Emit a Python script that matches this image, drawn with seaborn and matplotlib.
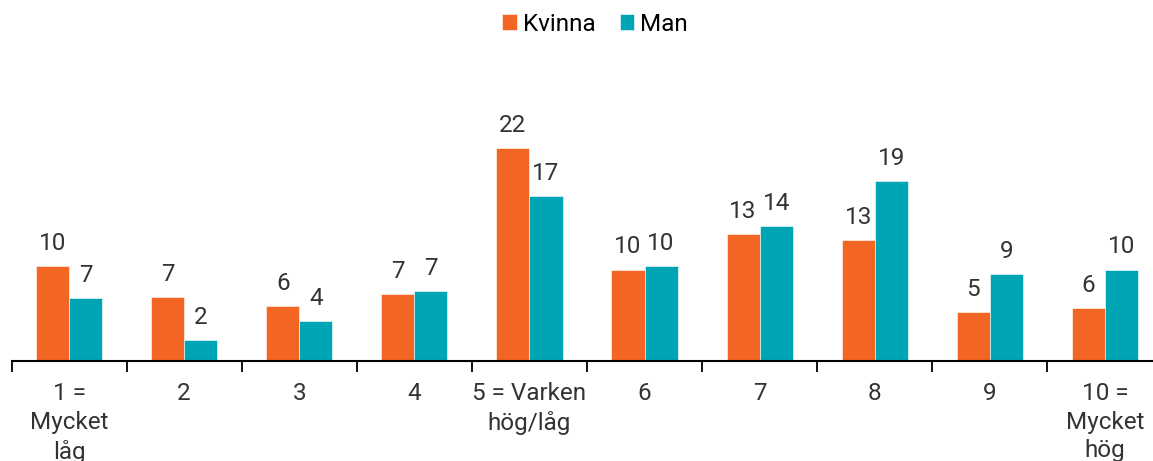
import numpy as np
import pandas as pd
import matplotlib
matplotlib.use("Agg")
import matplotlib.pyplot as plt
import seaborn as sns

CATEGORIES = ["1 =\nMycket\nlåg", "2", "3", "4", "5 = Varken\nhög/låg",
              "6", "7", "8", "9", "10 =\nMycket\nhög"]
KVINNA = [10.0, 6.7, 5.8, 7.0, 22.4, 9.6, 13.3, 12.7, 5.1, 5.6]
MAN = [6.6, 2.2, 4.2, 7.3, 17.3, 10.0, 14.2, 18.9, 9.1, 9.6]
SERIES = ["Kvinna", "Man"]
COLORS = ["#F26522", "#00A5B5"]

df = pd.DataFrame({
    "kategori": CATEGORIES * 2,
    "andel": KVINNA + MAN,
    "kon": ["Kvinna"] * len(KVINNA) + ["Man"] * len(MAN),
})

sns.set_theme(style="white")
plt.rcParams["font.family"] = ["Roboto", "DejaVu Sans"]
TEXT = "#333333"
FS = 17.5

fig = plt.figure(figsize=(11.53, 4.61), dpi=100)
ax = fig.add_axes([11.5 / 1153, 100 / 461, 1151 / 1153, 301 / 461])

sns.barplot(data=df, x="kategori", y="andel", hue="kon", order=CATEGORIES,
            hue_order=SERIES, palette=COLORS, width=0.575, saturation=1,
            edgecolor="white", linewidth=0.4, ax=ax, legend=True)

for cont in ax.containers:
    ax.bar_label(cont, labels=[f"{v:.0f}" for v in cont.datavalues],
                 padding=8, fontsize=FS, color=TEXT)

ax.set_ylim(0, 31.6)
ax.set_xlim(-0.5, len(CATEGORIES) - 0.5)
ax.set_xlabel("")
ax.set_ylabel("")
ax.set_yticks([])
for s in ["left", "right", "top"]:
    ax.spines[s].set_visible(False)
ax.spines["bottom"].set_color("black")
ax.spines["bottom"].set_linewidth(1.5)

ax.set_xticks(np.arange(-0.5, len(CATEGORIES), 1.0), minor=True)
ax.tick_params(axis="x", which="minor", bottom=True, length=8, width=1.3, color="black")
ax.tick_params(axis="x", which="major", length=0, pad=15, labelsize=FS, labelcolor=TEXT)
for lbl in ax.get_xticklabels():
    lbl.set_linespacing(1.32)
    lbl.set_verticalalignment("top")

handles, labels = ax.get_legend_handles_labels()
ax.legend_.remove()
fig.legend(handles, labels, loc="upper center", bbox_to_anchor=(0.516, 1.02),
           ncol=2, frameon=False, fontsize=FS, handlelength=0.6, handleheight=0.6,
           handletextpad=0.25, columnspacing=1.0, labelcolor="black")

fig.savefig("out.png", dpi=100)
